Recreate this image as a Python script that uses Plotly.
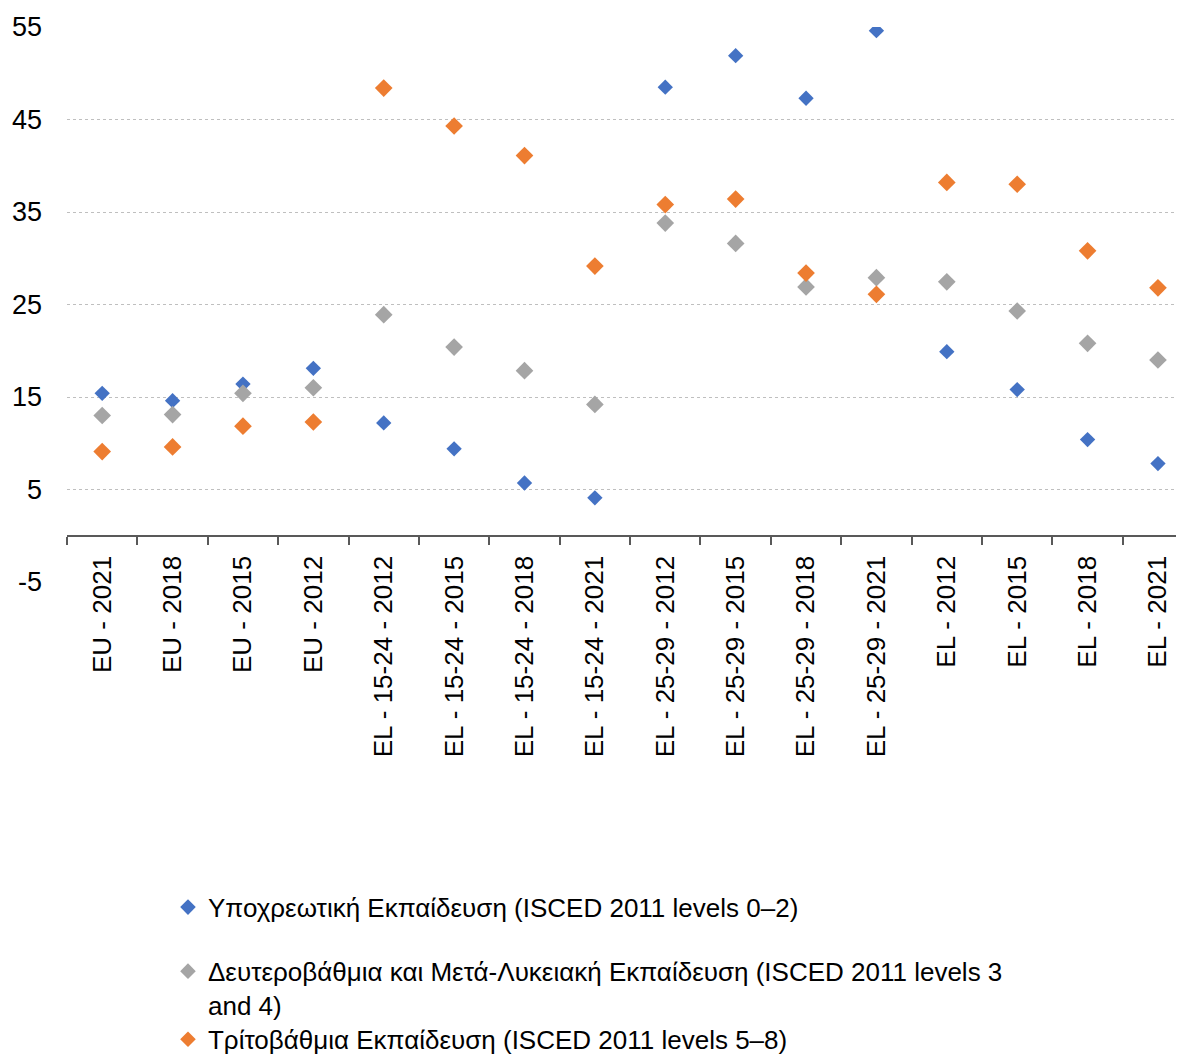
import plotly.graph_objects as go

categories = ["EU - 2021", "EU - 2018", "EU - 2015", "EU - 2012",
              "EL - 15-24 - 2012", "EL - 15-24 - 2015", "EL - 15-24 - 2018", "EL - 15-24 - 2021",
              "EL - 25-29 - 2012", "EL - 25-29 - 2015", "EL - 25-29 - 2018", "EL - 25-29 - 2021",
              "EL - 2012", "EL - 2015", "EL - 2018", "EL - 2021"]

compulsory = [15.4, 14.6, 16.4, 18.1, 12.2, 9.4, 5.7, 4.1, 48.5, 51.9, 47.3, 54.6, 19.9, 15.8, 10.4, 7.8]
secondary = [13.0, 13.1, 15.4, 16.0, 23.9, 20.4, 17.85, 14.2, 33.8, 31.6, 26.9, 27.9, 27.45, 24.3, 20.8, 19.0]
tertiary = [9.1, 9.6, 11.85, 12.3, 48.4, 44.3, 41.1, 29.15, 35.8, 36.4, 28.4, 26.1, 38.2, 38.0, 30.8, 26.8]

series_names = ["Υποχρεωτική Εκπαίδευση (ISCED 2011 levels 0–2)",
                "Δευτεροβάθμια και Μετά-Λυκειακή Εκπαίδευση (ISCED 2011 levels 3<br>and 4)",
                "Τρίτοβάθμια Εκπαίδευση (ISCED 2011 levels 5–8)"]

y_tickvals = [-5, 5, 15, 25, 35, 45, 55]
y_ticktext = ["-5", "5", "15", "25", "35", "45", "55"]

FONT = "Arial, 'Liberation Sans', sans-serif"

fig = go.Figure()
fig.add_trace(go.Scatter(x=categories, y=compulsory, mode="markers", name=series_names[0],
                         legend="legend",
                         marker=dict(symbol="diamond", size=11.8, color="#4472C4")))
fig.add_trace(go.Scatter(x=categories, y=secondary, mode="markers", name=series_names[1],
                         legend="legend2",
                         marker=dict(symbol="diamond", size=13.6, color="#A5A5A5")))
fig.add_trace(go.Scatter(x=categories, y=tertiary, mode="markers", name=series_names[2],
                         legend="legend3",
                         marker=dict(symbol="diamond", size=13.6, color="#ED7D31")))

legend_common = dict(xanchor="left", yanchor="top", orientation="v", valign="top",
                     font=dict(family=FONT, size=26, color="#000000"),
                     itemsizing="constant", bgcolor="rgba(0,0,0,0)")

fig.update_layout(
    width=1176, height=1047,
    margin=dict(l=59, r=0, t=19.4, b=473, autoexpand=False),
    plot_bgcolor="white", paper_bgcolor="white",
    font=dict(family=FONT, size=26, color="#000000"),
    showlegend=True,
    legend=dict(x=0.0904, y=-0.5436, **legend_common),
    legend2=dict(x=0.0904, y=-0.6590, **legend_common),
    legend3=dict(x=0.0904, y=-0.7816, **legend_common),
    xaxis=dict(type="category", categoryorder="array", categoryarray=categories,
               range=[-0.5, 15.37],
               anchor="free", position=5 / 60,
               showline=True, linecolor="#595959", linewidth=1.5,
               ticks="outside", tickson="boundaries", ticklen=8, tickcolor="#595959", tickwidth=1.5,
               tickangle=-90, ticklabelstandoff=9,
               tickfont=dict(family=FONT, size=26, color="#000000"),
               showgrid=False, zeroline=False),
    yaxis=dict(range=[-5, 55], tickvals=y_tickvals, ticktext=y_ticktext,
               showgrid=True, gridcolor="#BFBFBF", griddash="dot", gridwidth=1,
               zeroline=False, showline=False, ticks="",
               ticklabelstandoff=24,
               tickfont=dict(family=FONT, size=27, color="#000000")),
)

fig.write_html("out.html")
